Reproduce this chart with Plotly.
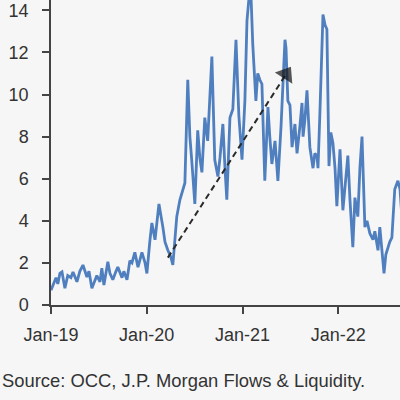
import plotly.graph_objects as go

dates = [
    "2019-01-01","2019-01-08","2019-01-20","2019-01-27","2019-02-04","2019-02-12","2019-02-23","2019-03-06",
    "2019-03-18","2019-03-26","2019-04-10","2019-04-21","2019-05-03","2019-05-18","2019-05-26","2019-06-06",
    "2019-06-18","2019-06-25","2019-07-07","2019-07-14","2019-07-22","2019-08-06","2019-08-14","2019-08-25",
    "2019-09-06","2019-09-13","2019-09-29","2019-10-06","2019-10-18","2019-10-29","2019-11-06","2019-11-17",
    "2019-11-29","2019-12-14","2019-12-26","2020-01-02","2020-01-13","2020-01-21","2020-02-02","2020-02-09",
    "2020-02-17","2020-03-03","2020-03-11","2020-03-22","2020-04-02","2020-04-10","2020-04-18","2020-04-25",
    "2020-05-07","2020-05-18","2020-05-26","2020-06-06","2020-06-14","2020-06-21","2020-07-03","2020-07-14",
    "2020-07-22","2020-07-30","2020-08-10","2020-08-21","2020-09-06","2020-09-17","2020-09-29","2020-10-07",
    "2020-10-18","2020-10-26","2020-11-02","2020-11-14","2020-11-25","2020-12-07","2020-12-18","2020-12-30",
    "2021-01-10","2021-01-18","2021-01-25","2021-02-02","2021-02-09","2021-02-21","2021-02-28","2021-03-08",
    "2021-03-16","2021-03-27","2021-04-08","2021-04-15","2021-04-23","2021-05-05","2021-05-16","2021-05-28",
    "2021-06-12","2021-06-16","2021-06-23","2021-07-01","2021-07-09","2021-07-20","2021-07-28","2021-08-08",
    "2021-08-16","2021-08-20","2021-08-27","2021-09-04","2021-09-15","2021-09-27","2021-10-04","2021-10-12",
    "2021-10-16","2021-10-23","2021-11-04","2021-11-12","2021-11-19","2021-11-27","2021-12-04","2021-12-12",
    "2021-12-20","2021-12-27","2022-01-08","2022-01-19","2022-01-27","2022-02-07","2022-02-15","2022-02-26",
    "2022-03-06","2022-03-17","2022-03-25","2022-04-02","2022-04-13","2022-04-21","2022-05-02","2022-05-14",
    "2022-05-21","2022-06-02","2022-06-09","2022-06-17","2022-06-25","2022-07-02","2022-07-10","2022-07-17",
    "2022-07-25","2022-08-05","2022-08-17","2022-08-25","2022-09-05",
]
values = [
    0.7, 0.95, 1.3, 1.0, 1.5, 1.57, 0.8, 1.4,
    1.3, 1.57, 1.1, 1.6, 1.9, 1.33, 1.6, 0.8,
    1.2, 1.4, 1.1, 1.75, 0.95, 2.05, 1.5, 1.2,
    1.6, 1.8, 1.3, 1.6, 1.2, 2.1, 2.0, 2.5,
    1.8, 2.5, 2.0, 1.5, 3.0, 3.9, 3.1, 4.0,
    4.8, 3.7, 3.0, 2.6, 2.3, 1.9, 3.0, 4.2,
    5.0, 5.5, 5.8, 10.7, 8.0, 6.9, 4.8, 8.3,
    7.0, 6.3, 8.9, 7.8, 11.8, 6.9, 6.1, 7.0,
    8.6, 6.5, 5.0, 8.9, 9.3, 12.6, 9.0, 6.9,
    9.7, 13.5, 14.5, 14.8, 12.4, 9.7, 11.0, 10.7,
    10.5, 5.9, 9.4, 8.0, 6.7, 7.8, 5.9, 8.5,
    12.6, 12.2, 9.7, 9.5, 7.5, 8.6, 7.2, 8.5,
    9.6, 8.0, 8.8, 10.2, 7.5, 6.5, 7.2, 7.1,
    6.5, 9.0, 13.8, 13.3, 13.1, 6.6, 8.2, 7.7,
    6.5, 4.7, 7.4, 4.5, 5.5, 7.1, 5.0, 2.75,
    5.1, 4.2, 6.5, 8.0, 3.7, 4.0, 3.4, 3.1,
    3.5, 2.6, 3.7, 2.5, 1.5, 2.4, 2.75, 3.0,
    3.2, 5.5, 5.9, 5.5, 3.5,
]

arrow_dates = ["2020-03-22", "2021-06-16"]
arrow_values = [2.25, 10.96]

tick_dates = ["2019-01-01", "2020-01-01", "2021-01-01", "2022-01-01"]
tick_labels = ["Jan-19", "Jan-20", "Jan-21", "Jan-22"]
y_ticks = [0, 2, 4, 6, 8, 10, 12, 14]

source_text = "Source: OCC, J.P. Morgan Flows & Liquidity."

FONT = "Liberation Sans, Arial, sans-serif"
TXT = "#333333"
BG = "#f6f6f6"

fig = go.Figure()
fig.add_trace(go.Scatter(
    x=dates, y=values, mode="lines",
    line=dict(color="#4f7fbf", width=2.8),
    hoverinfo="skip", showlegend=False,
))
fig.add_trace(go.Scatter(
    x=arrow_dates, y=arrow_values, mode="lines+markers",
    line=dict(color="#2a2a2a", width=2, dash="6px,4px"),
    marker=dict(symbol="triangle-up", size=[0, 18], angleref="previous",
                color="#111111", line=dict(width=0)),
    hoverinfo="skip", showlegend=False,
))

fig.update_layout(
    width=400, height=400,
    margin=dict(l=51, r=0, t=0, b=95),
    paper_bgcolor=BG, plot_bgcolor=BG,
    font=dict(family=FONT, size=18, color=TXT),
    xaxis=dict(
        range=["2019-01-01", "2022-08-25"],
        tickvals=tick_dates, ticktext=tick_labels,
        showgrid=False, zeroline=False,
        showline=True, linecolor="#444444", linewidth=1.5,
        ticks="outside", ticklen=7, tickwidth=1.5, tickcolor="#444444",
        tickfont=dict(family=FONT, size=18, color=TXT),
        ticklabelstandoff=6,
    ),
    yaxis=dict(
        range=[0, 14.49],
        tickvals=y_ticks,
        showgrid=False, zeroline=False,
        showline=True, linecolor="#444444", linewidth=1.5,
        ticks="outside", ticklen=7, tickwidth=1.5, tickcolor="#444444",
        tickfont=dict(family=FONT, size=18, color=TXT),
        ticklabelstandoff=10,
    ),
    annotations=[dict(
        text=source_text, xref="paper", yref="paper",
        x=-51/349, y=-75/305, xanchor="left", yanchor="middle",
        showarrow=False, font=dict(family=FONT, size=18.4, color=TXT),
    )],
)

fig.write_html("out.html")
